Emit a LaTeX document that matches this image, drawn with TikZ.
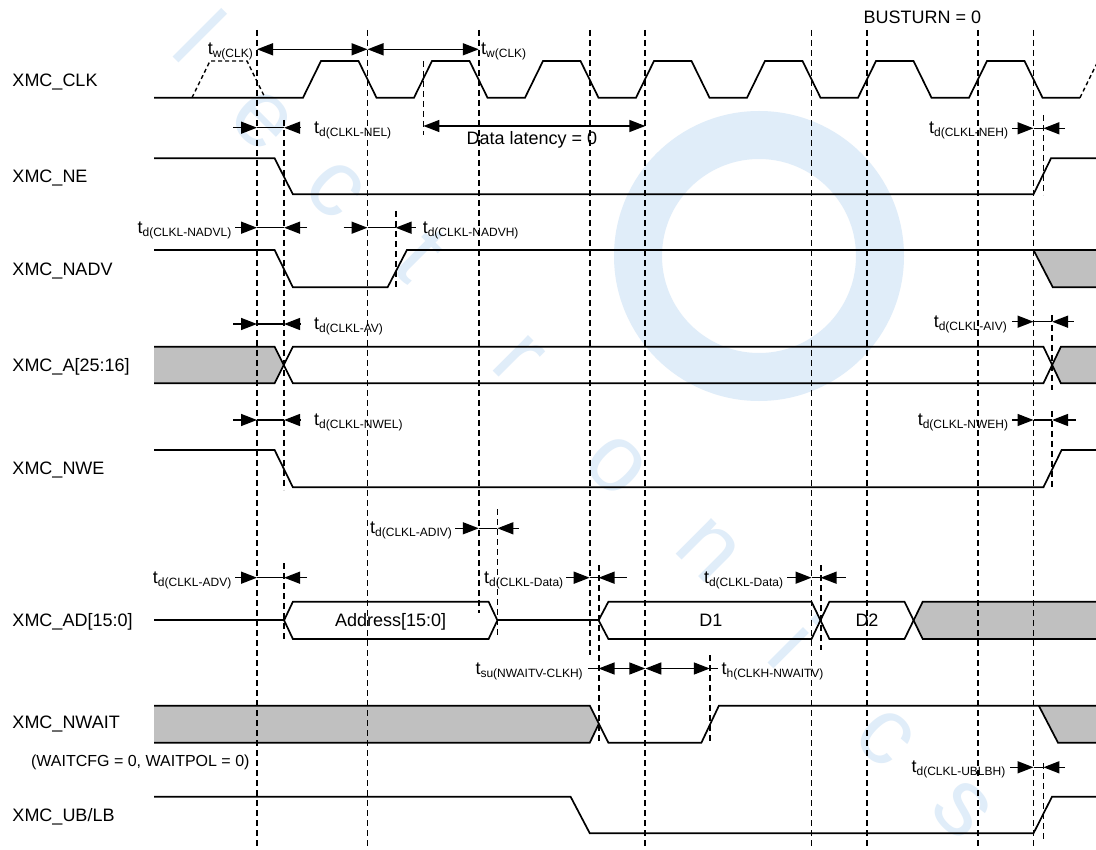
\documentclass[tikz,border=0pt]{standalone}
\usepackage{fontspec}
\setmainfont{Liberation Sans}
\usetikzlibrary{arrows.meta}
\definecolor{wmblue}{RGB}{224,237,249}
\definecolor{fillgray}{RGB}{192,192,192}
\newcommand{\sbs}[1]{\raisebox{-3pt}{\fontsize{12}{12}\selectfont #1}}
\newcommand{\tdar}[6]{%
  \coordinate (#1-l) at (#2,#6); \coordinate (#1-a) at (#3,#6);
  \coordinate (#1-b) at (#4,#6); \coordinate (#1-r) at (#5,#6);
  \draw[ahead] (#1-l) -- (#1-a); \draw[tick] (#1-a) -- (#1-b); \draw[ahead] (#1-r) -- (#1-b);}
\begin{document}
\begin{tikzpicture}[x=1pt,y=-1pt,
  sig/.style={line width=1.7pt, line join=miter},
  vdash/.style={line width=1.8pt, dash pattern=on 6pt off 4pt},
  tick/.style={line width=1.5pt},
  ahead/.style={-{Triangle[length=16pt,width=12pt]}, line width=1.5pt},
  dbl/.style={{Triangle[length=16pt,width=12pt]}-{Triangle[length=16pt,width=12pt]}, line width=1.5pt},
  big/.style={font=\fontsize{18}{20}\selectfont, inner sep=0pt},
  tl/.style={font=\fontsize{18}{20}\selectfont, inner sep=0pt},
  small/.style={font=\fontsize{16}{18}\selectfont, inner sep=0pt},
  wmtext/.style={text=wmblue, font=\fontsize{95}{95}\selectfont, rotate=-45, inner sep=0pt},
  grayfill/.style={fill=fillgray, draw=none}
]
\useasboundingbox (0,0) rectangle (1096,850);
\fill[white] (0,0) rectangle (1096,850);

% ---- watermark ----
\begin{scope}
\clip (0,0) rectangle (1096,850);
\draw[wmblue, line width=48pt] (759,256) circle[radius=121];
\node[wmtext] (w1) at (200,36) {l};
\node[wmtext] (w2) at (262,120) {e};
\node[wmtext] (w3) at (335,190) {c};
\node[wmtext] (w4) at (420,255) {t};
\node[wmtext] (w5) at (518,360) {r};
\node[wmtext] (w6) at (616,465) {o};
\node[wmtext] (w7) at (708,550) {n};
\node[wmtext] (w8) at (795,642) {i};
\node[wmtext] (w9) at (885,738) {c};
\node[wmtext] (w10) at (962,810) {s};
\end{scope}

% ---- gray fills ----
\fill[grayfill] (1033.5,250) -- (1096,250) -- (1096,287.3) -- (1052.8,287.3) -- cycle;
\fill[grayfill] (154,346.7) -- (274.6,346.7) -- (283.8,365) -- (274.6,383.3) -- (154,383.3) -- cycle;
\fill[grayfill] (1052.2,365) -- (1060.9,346.7) -- (1096,346.7) -- (1096,383.3) -- (1060.9,383.3) -- cycle;
\fill[grayfill] (913.6,620.3) -- (922.7,601.7) -- (1096,601.7) -- (1096,639) -- (922.7,639) -- cycle;
\fill[grayfill] (154,705.7) -- (589.8,705.7) -- (598.6,724.2) -- (589.8,742.7) -- (154,742.7) -- cycle;
\fill[grayfill] (1038.8,705.7) -- (1096,705.7) -- (1096,742.7) -- (1058,742.7) -- cycle;

% ---- dashed verticals ----
\foreach \x/\ya/\yb in {257/30/848, 367.5/30/848, 478.8/30/613, 589.7/30/655,
  645.3/30/848, 811.5/30/848, 867/30/848, 978/30/848, 1033.5/30/848,
  284.1/120/490, 284.1/563/640, 395.6/211/289, 423.4/61/135, 497.4/509/637,
  598.6/565/743, 709.8/655/743, 820.6/565/650, 1043.4/115/195,
  1052.1/315/390, 1052.1/411/487, 1043.4/763/840}
  \draw[vdash] (\x,\ya) -- (\x,\yb);

% ---- signal names ----
\node[big, anchor=base west] (nclk) at (12.3,86.2) {XMC\_CLK};
\node[big, anchor=base west] (nne) at (12.3,182.5) {XMC\_NE};
\node[big, anchor=base west] (nnadv) at (12.3,276) {XMC\_NADV};
\node[big, anchor=base west] (na) at (12.3,371.5) {XMC\_A[25:16]};
\node[big, anchor=base west] (nnwe) at (12.3,475) {XMC\_NWE};
\node[big, anchor=base west] (nad) at (12.3,626.5) {XMC\_AD[15:0]};
\node[big, anchor=base west] (nnwait) at (12.3,728) {XMC\_NWAIT};
\node[small, anchor=base west] (nwcfg) at (30.9,766) {(WAITCFG = 0, WAITPOL = 0)};
\node[big, anchor=base west] (nublb) at (12.3,821.7) {XMC\_UB/LB};

% ---- clock ----
\draw[dash pattern=on 4pt off 3pt, line width=1.4pt] (192,97.7) -- (210,61) -- (247,61) -- (265,97.7);
\draw[sig] (154,97.7) foreach \k in {0,...,6} {
  -- ({303+111*\k},97.7) -- ({321+111*\k},61) -- ({358.5+111*\k},61) -- ({376.5+111*\k},97.7) } -- (1080,97.7);
\begin{scope}
\clip (0,0) rectangle (1096,850);
\draw[dash pattern=on 4pt off 3pt, line width=1.4pt] (1080,97.7) -- (1098,61);
\end{scope}

% ---- NE ----
\draw[sig] (154,158.3) -- (274.6,158.3) -- (292.9,194.3) -- (1033.5,194.3) -- (1051,158.3) -- (1096,158.3);
% ---- NADV ----
\draw[sig] (154,250) -- (274.6,250) -- (292.9,287.3) -- (387.6,287.3) -- (406.9,250) -- (1096,250);
\draw[sig] (1033.5,250) -- (1052.8,287.3) -- (1096,287.3);
% ---- A ----
\draw[sig] (154,346.7) -- (274.6,346.7) -- (292.9,383.3) -- (1043.4,383.3) -- (1060.9,346.7) -- (1096,346.7);
\draw[sig] (154,383.3) -- (274.6,383.3) -- (292.9,346.7) -- (1043.4,346.7) -- (1060.9,383.3) -- (1096,383.3);
% ---- NWE ----
\draw[sig] (154,450) -- (274.6,450) -- (292.9,487.3) -- (1043.4,487.3) -- (1061.6,450) -- (1096,450);
% ---- AD ----
\draw[sig] (154,620.3) -- (284.1,620.3);
\draw[sig] (284.1,620.3) -- (292.9,601.7) -- (488.6,601.7) -- (497.4,620.3) -- (488.6,639) -- (292.9,639) -- cycle;
\draw[sig] (497.4,620.3) -- (598.6,620.3);
\draw[sig] (598.6,620.3) -- (608.4,601.7) -- (811.5,601.7) -- (829.4,639) -- (904.5,639) -- (922.7,601.7) -- (1096,601.7);
\draw[sig] (598.6,620.3) -- (608.4,639) -- (811.5,639) -- (829.4,601.7) -- (904.5,601.7) -- (922.7,639) -- (1096,639);
\node[big, anchor=base] (taddr) at (390.7,626.5) {Address[15:0]};
\node[big, anchor=base] (td1) at (710.8,626.5) {D1};
\node[big, anchor=base] (td2) at (867,626.5) {D2};
% ---- NWAIT ----
\draw[sig] (154,705.7) -- (589.8,705.7) -- (608.4,742.7) -- (701.4,742.7) -- (718.9,705.7) -- (1096,705.7);
\draw[sig] (154,742.7) -- (589.8,742.7) -- (598.6,724.2);
\draw[sig] (1038.8,705.7) -- (1058,742.7) -- (1096,742.7);
% ---- UB/LB ----
\draw[sig] (154,796.7) -- (570.6,796.7) -- (589.8,833.3) -- (1033.5,833.3) -- (1052,796.7) -- (1096,796.7);

% ---- timing annotations ----
\coordinate (tw0) at (257,49.3); \coordinate (tw1) at (367.5,49.3); \coordinate (tw2) at (478.8,49.3);
\draw[dbl] (tw0) -- (tw1);
\draw[dbl] (tw1) -- (tw2);
\node[tl, anchor=base east] (ltw1) at (253,55) {t\sbs{w(CLK)}};
\node[tl, anchor=base west] (ltw2) at (481,55) {t\sbs{w(CLK)}};
\node[big, anchor=base west] (lbus) at (863.4,23.3) {BUSTURN = 0};

\tdar{nel}{233}{257}{284.1}{300}{127.7}
\node[tl, anchor=base west] (lnel) at (314,133.2) {t\sbs{d(CLKL-NEL)}};

\coordinate (dla) at (423.4,126); \coordinate (dlb) at (645.3,126);
\draw[dbl] (dla) -- (dlb);
\node[big, anchor=base west] (ldl) at (466.5,144.6) {Data latency = 0};

\tdar{neh}{1012}{1033.5}{1043.4}{1065}{128.3}
\node[tl, anchor=base east] (lneh) at (1008.3,133.8) {t\sbs{d(CLKL-NEH)}};

\tdar{nadvl}{235}{257}{284.1}{307}{227.7}
\node[tl, anchor=base east] (lnadvl) at (231.5,233.2) {t\sbs{d(CLKL-NADVL)}};
\tdar{nadvh}{343.7}{367.5}{395.6}{415.6}{227.7}
\node[tl, anchor=base west] (lnadvh) at (422.6,233.2) {t\sbs{d(CLKL-NADVH)}};

\tdar{av}{233}{257}{284.1}{300}{324}
\node[tl, anchor=base west] (lav) at (314,329.5) {t\sbs{d(CLKL-AV)}};
\tdar{aiv}{1012}{1033.5}{1052.1}{1073.9}{321.7}
\node[tl, anchor=base east] (laiv) at (1007,327.2) {t\sbs{d(CLKL-AIV)}};

\tdar{nwel}{233}{257}{284.1}{300}{420}
\node[tl, anchor=base west] (lnwel) at (314,425.5) {t\sbs{d(CLKL-NWEL)}};
\tdar{nweh}{1012}{1033.5}{1052.1}{1075.6}{420}
\node[tl, anchor=base east] (lnweh) at (1008.3,425.5) {t\sbs{d(CLKL-NWEH)}};

\tdar{adiv}{455}{478.8}{497.4}{519}{528.3}
\node[tl, anchor=base west] (ladiv) at (370,533.8) {t\sbs{d(CLKL-ADIV)}};
\tdar{adv}{235}{257}{284.1}{307}{577.7}
\node[tl, anchor=base east] (ladv) at (231.5,583.2) {t\sbs{d(CLKL-ADV)}};
\tdar{dat1}{566}{589.7}{598.6}{626.7}{577.7}
\node[tl, anchor=base west] (ldat1) at (484,583.2) {t\sbs{d(CLKL-Data)}};
\tdar{dat2}{787}{811.5}{820.6}{845.9}{577.7}
\node[tl, anchor=base west] (ldat2) at (703.8,583.2) {t\sbs{d(CLKL-Data)}};

\coordinate (su0) at (588,668.5); \coordinate (su1) at (598.6,668.5);
\coordinate (su2) at (645.3,668.5); \coordinate (su3) at (709.8,668.5); \coordinate (su4) at (718,668.5);
\draw[tick] (su0) -- (su1);
\draw[dbl] (su1) -- (su2);
\draw[dbl] (su2) -- (su3);
\draw[tick] (su3) -- (su4);
\node[tl, anchor=base west] (lsu) at (475.3,674) {t\sbs{su(NWAITV-CLKH)}};
\node[tl, anchor=base west] (lh) at (721.4,674) {t\sbs{h(CLKH-NWAITV)}};

\tdar{ublb}{1010}{1033.5}{1043.4}{1065}{767.3}
\node[tl, anchor=base east] (lublb) at (1005.5,772.8) {t\sbs{d(CLKL-UBLBH)}};
\end{tikzpicture}
\end{document}
